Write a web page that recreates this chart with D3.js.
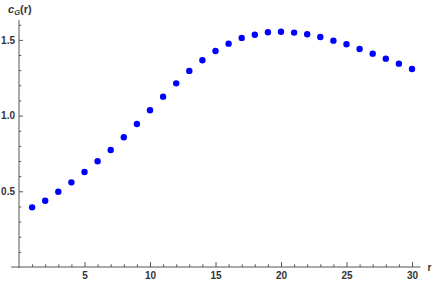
<!DOCTYPE html>
<html>
<head>
<meta charset="utf-8">
<script src="https://cdn.jsdelivr.net/npm/d3@7"></script>
<style>
  html, body { margin: 0; padding: 0; background: #fff; }
  svg { display: block; }
</style>
</head>
<body>
<svg id="chart" width="436" height="285"></svg>
<script>
const rValues = [1,2,3,4,5,6,7,8,9,10,11,12,13,14,15,16,17,18,19,20,21,22,23,24,25,26,27,28,29,30];
const cValues = [0.394,0.438,0.497,0.559,0.627,0.698,0.773,0.857,0.944,1.035,
                 1.125,1.213,1.295,1.365,1.427,1.475,1.513,1.534,1.550,1.554,
                 1.548,1.537,1.519,1.495,1.471,1.440,1.409,1.376,1.343,1.308];
const xMajorTicks = [5,10,15,20,25,30];
const xMinorTicks = [1,2,3,4,6,7,8,9,11,12,13,14,16,17,18,19,21,22,23,24,26,27,28,29];
const yMajorTicks = [0.5,1.0,1.5];
const yMinorTicks = [0.1,0.2,0.3,0.4,0.6,0.7,0.8,0.9,1.1,1.2,1.3,1.4,1.6];

const svg = d3.select("#chart");
const x = d3.scaleLinear().domain([0, 30]).range([19, 412]);
const y = d3.scaleLinear().domain([0, 1.63]).range([267, 20.2]);

const axisColor = "#555";
const font = "'Liberation Sans', Arial, sans-serif";

// X axis major
const gx = svg.append("g").attr("transform", `translate(0,${y(0)})`);
gx.call(d3.axisBottom(x).tickValues(xMajorTicks).tickSizeInner(-5).tickSizeOuter(0).tickPadding(5).tickFormat(d3.format("d")));
const gxm = svg.append("g").attr("transform", `translate(0,${y(0)})`);
gxm.call(d3.axisBottom(x).tickValues(xMinorTicks).tickSizeInner(-2.7).tickSizeOuter(0).tickFormat(""));
[gx, gxm].forEach(g => { g.select(".domain").remove(); });
svg.append("line").attr("x1", x(-0.6)).attr("x2", x(30.65)).attr("y1", y(0)).attr("y2", y(0))
  .attr("stroke", axisColor).attr("stroke-width", 1);

// Y axis major
const gy = svg.append("g").attr("transform", `translate(${x(0)},0)`);
gy.call(d3.axisLeft(y).tickValues(yMajorTicks).tickSizeInner(-4).tickSizeOuter(0).tickPadding(4).tickFormat(d3.format(".1f")));
const gym = svg.append("g").attr("transform", `translate(${x(0)},0)`);
gym.call(d3.axisLeft(y).tickValues(yMinorTicks).tickSizeInner(-2.3).tickSizeOuter(0).tickFormat(""));
[gy, gym].forEach(g => { g.select(".domain").remove(); });
svg.append("line").attr("x1", x(0)).attr("x2", x(0)).attr("y1", y(0) + 1).attr("y2", y(1.63))
  .attr("stroke", axisColor).attr("stroke-width", 1);

svg.selectAll(".tick line").attr("stroke", axisColor).attr("stroke-width", 1);
svg.selectAll(".tick text").attr("fill", "#333").attr("font-family", font)
  .attr("font-size", 10).attr("font-weight", "bold");

// Axis labels
svg.append("text").attr("x", x(30.65) + 7).attr("y", y(0) + 3.5)
  .attr("font-family", font).attr("font-size", 10).attr("font-weight", "bold").attr("fill", "#333")
  .text("r");
const yl = svg.append("text").attr("x", 8).attr("y", 13)
  .attr("font-family", font).attr("font-size", 11).attr("font-weight", "bold").attr("fill", "#333");
yl.append("tspan").attr("font-style", "italic").text("c");
yl.append("tspan").attr("font-style", "italic").attr("font-size", 7.5).attr("dy", 2).text("G");
yl.append("tspan").attr("dy", -2).text("(r)");

// Points
svg.append("g").selectAll("circle").data(rValues).join("circle")
  .attr("cx", (d) => x(d))
  .attr("cy", (d, i) => y(cValues[i]))
  .attr("r", 3.2)
  .attr("fill", "#0000ff");
</script>
</body>
</html>
